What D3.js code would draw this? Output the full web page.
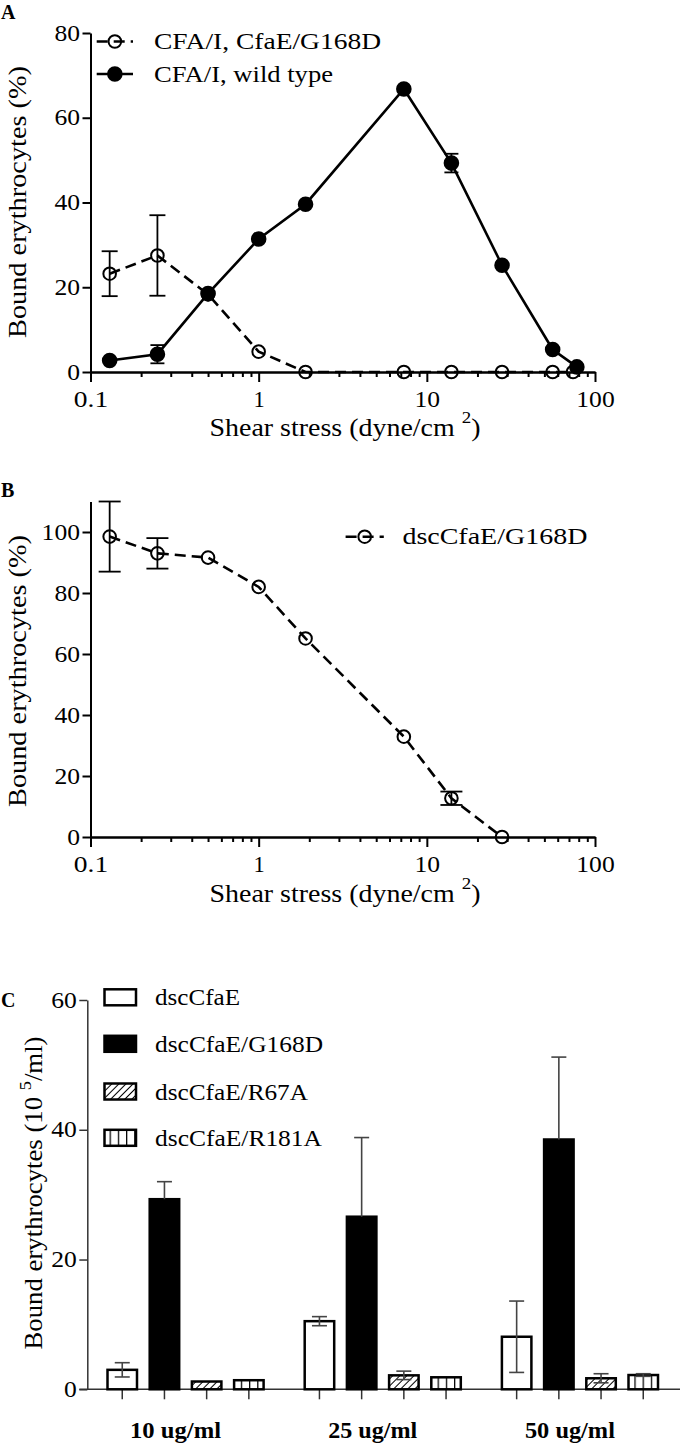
<!DOCTYPE html>
<html>
<head>
<meta charset="utf-8">
<script src="https://cdn.jsdelivr.net/npm/d3@7"></script>
<style>
  body { margin: 0; background: #fff; }
  svg { display: block; }
  text { fill: #000; }
</style>
</head>
<body>
<script>
// Panel A: CFA/I fimbriae, bound erythrocytes vs shear stress
var shearMutant = [0.13, 0.25, 0.5, 1, 1.9, 7.3, 14, 28, 56, 74];
var boundMutant = [23.2, 27.5, 18.3, 4.8, 0, 0, 0, 0, 0, 0];
var errMutant   = [5.3, 9.5, 0, 0, 0, 0, 0, 0, 0, 0];
var shearWild = [0.13, 0.25, 0.5, 1, 1.9, 7.3, 14, 28, 56, 78];
var boundWild = [2.7, 4.2, 18.5, 31.4, 39.6, 66.8, 49.3, 25.2, 5.3, 1.2];
var errWild   = [0, 2.15, 0, 0, 0, 0, 2.2, 0, 0, 0];
var legendA = ["CFA/I, CfaE/G168D", "CFA/I, wild type"];

// Panel B: dscCfaE/G168D
var shearB = [0.13, 0.25, 0.5, 1, 1.9, 7.3, 14, 28];
var boundB = [98.5, 93, 91.6, 82, 65.1, 32.9, 12.7, 0];
var errB   = [11.5, 5, 0, 0, 0, 0, 2.2, 0];

// shared tick values
var shearTicks = [0.1, 1, 10, 100];
var percentTicksA = [0, 20, 40, 60, 80];
var percentTicksB = [0, 20, 40, 60, 80, 100];

// Panel C: bound erythrocytes per protein and concentration
var concentrations = ["10 ug/ml", "25 ug/ml", "50 ug/ml"];
var proteins = ["dscCfaE", "dscCfaE/G168D", "dscCfaE/R67A", "dscCfaE/R181A"];
var countCfaE  = [3.0, 10.5, 8.1];
var countG168D = [29.3, 26.6, 38.5];
var countR67A  = [1.2, 2.15, 1.7];
var countR181A = [1.4, 1.85, 2.2];
var errCfaE  = [1.1, 0.7, 5.5];
var errG168D = [2.7, 12.2, 12.7];
var errR67A  = [0, 0.65, 0.7];
var errR181A = [0, 0, 0.2];
var countTicks = [0, 20, 40, 60];

var counts = [countCfaE, countG168D, countR67A, countR181A];
var countErrs = [errCfaE, errG168D, errR67A, errR181A];
var fills = ["#fff", "#000", "url(#hatch)", "url(#vlines)"];

//pick a Times-like font if there is one, otherwise fall back to DejaVu Serif
var serif = '"Liberation Serif", "Tinos", "Times New Roman", "Nimbus Roman", "FreeSerif", "DejaVu Serif", serif';
var fs = 1;
(function() {
  var ctx = document.createElement("canvas").getContext("2d");
  ctx.font = "40px monospace";
  var base = ctx.measureText("mmmWWWiiil0.1").width;
  ctx.font = '40px "Liberation Serif", monospace';
  if (Math.abs(ctx.measureText("mmmWWWiiil0.1").width - base) < 0.5) fs = 0.89;
})();

var svg = d3.select("body").append("svg")
  .attr("width", 680)
  .attr("height", 1446)
  .style("font-family", serif);

//patterns for the hatched bars
var defs = svg.append("defs");
var hatch = defs.append("pattern").attr("id", "hatch")
  .attr("patternUnits", "userSpaceOnUse")
  .attr("width", 5).attr("height", 5)
  .attr("patternTransform", "rotate(45)");
hatch.append("rect").attr("width", 5).attr("height", 5).attr("fill", "#fff");
hatch.append("line").attr("x1", 0).attr("y1", 0).attr("x2", 0).attr("y2", 5)
  .attr("stroke", "#000").attr("stroke-width", 2);
var vlines = defs.append("pattern").attr("id", "vlines")
  .attr("patternUnits", "userSpaceOnUse")
  .attr("width", 8.2).attr("height", 8)
  .attr("x", 3);
vlines.append("rect").attr("width", 8.2).attr("height", 8).attr("fill", "#fff");
vlines.append("line").attr("x1", 0.5).attr("y1", 0).attr("x2", 0.5).attr("y2", 8)
  .attr("stroke", "#000").attr("stroke-width", 1.5);

function points(xs, ys, es) {
  return xs.map(function(d, i) { return {x: d, y: ys[i], e: es[i]}; });
}

//draws the log shear axis with minor ticks and its title
function shearAxis(x, y0, titleY) {
  var minor = [];
  [0.1, 1, 10].forEach(function(d) {
    for (var k = 2; k < 10; k++) minor.push(d * k);
  });
  var g = svg.append("g").attr("transform", "translate(0," + y0 + ")");
  g.append("g").call(d3.axisBottom(x).tickValues(minor).tickSize(5).tickSizeOuter(0).tickFormat(""));
  g.append("g").call(d3.axisBottom(x).tickValues(shearTicks).tickSize(10).tickSizeOuter(0)
    .tickPadding(9).tickFormat(function(d) { return String(d); }));
  g.selectAll("g").attr("font-family", null).attr("font-size", null);
  g.selectAll("path, line").attr("stroke", "#000").attr("stroke-width", 2);
  g.selectAll("text").attr("font-size", 22.5 * fs).attr("textLength", function(d) {
    return String(d).length === 1 ? null : String(d).length * 12.8 - (String(d).indexOf(".") >= 0 ? 4 : 0);
  }).attr("lengthAdjust", "spacingAndGlyphs");
  var t = svg.append("text")
    .attr("x", 345).attr("y", titleY)
    .attr("text-anchor", "middle")
    .attr("font-size", 25 * fs)
    .attr("textLength", 271).attr("lengthAdjust", "spacingAndGlyphs");
  t.append("tspan").text("Shear stress (dyne/cm ");
  t.append("tspan").attr("font-size", 17 * fs).attr("dy", -13).text("2");
  t.append("tspan").attr("dy", 13).text(")");
}

function valueAxis(y, ticks, x0, color, width) {
  var g = svg.append("g").attr("transform", "translate(" + x0 + ",0)")
    .call(d3.axisLeft(y).tickValues(ticks).tickSize(8).tickSizeOuter(0).tickPadding(2.5));
  g.attr("font-family", null).attr("font-size", null);
  g.selectAll("path, line").attr("stroke", color).attr("stroke-width", width);
  g.selectAll("text").attr("font-size", 22.5 * fs)
    .attr("textLength", function(d) { return String(d).length * 12.8; })
    .attr("lengthAdjust", "spacingAndGlyphs");
}

function yTitle(label, cx, cy, len) {
  svg.append("text")
    .attr("transform", "translate(" + cx + "," + cy + ") rotate(-90)")
    .attr("text-anchor", "middle")
    .attr("font-size", 25 * fs)
    .attr("textLength", len).attr("lengthAdjust", "spacingAndGlyphs")
    .text(label);
}

//draws one series: error bars, line, markers
function series(pts, x, y, dashed, filled, cap) {
  var eb = svg.append("g");
  pts.filter(function(d) { return d.e > 0; }).forEach(function(d) {
    var cx = x(d.x);
    eb.append("line").attr("x1", cx).attr("x2", cx)
      .attr("y1", y(d.y - d.e)).attr("y2", y(d.y + d.e));
    eb.append("line").attr("x1", cx - cap / 2).attr("x2", cx + cap / 2)
      .attr("y1", y(d.y + d.e)).attr("y2", y(d.y + d.e));
    eb.append("line").attr("x1", cx - cap / 2).attr("x2", cx + cap / 2)
      .attr("y1", y(d.y - d.e)).attr("y2", y(d.y - d.e));
  });
  eb.selectAll("line").attr("stroke", "#000").attr("stroke-width", 1.8);

  var line = d3.line().x(function(d) { return x(d.x); }).y(function(d) { return y(d.y); });
  svg.append("path").datum(pts)
    .attr("d", line)
    .attr("fill", "none")
    .attr("stroke", "#000")
    .attr("stroke-width", 2.6)
    .attr("stroke-dasharray", dashed ? "11,6" : null);

  svg.append("g").selectAll("circle")
    .data(pts)
    .enter()
    .append("circle")
    .attr("cx", function(d) { return x(d.x); })
    .attr("cy", function(d) { return y(d.y); })
    .attr("r", filled ? 6.8 : 6.3)
    .attr("fill", filled ? "#000" : "none")
    .attr("stroke", "#000")
    .attr("stroke-width", 2);
}

function legendItem(x1, x2, y, label, textX, len, dashed, filled) {
  svg.append("line").attr("x1", x1).attr("x2", x2).attr("y1", y).attr("y2", y)
    .attr("stroke", "#000").attr("stroke-width", 2.6)
    .attr("stroke-dasharray", dashed ? "11,6" : null);
  svg.append("circle").attr("cx", (x1 + x2) / 2).attr("cy", y)
    .attr("r", filled ? 6.8 : 6.3)
    .attr("fill", filled ? "#000" : "none")
    .attr("stroke", "#000").attr("stroke-width", 2);
  svg.append("text").attr("x", textX).attr("y", y + 7.5)
    .attr("font-size", 24 * fs)
    .attr("textLength", len).attr("lengthAdjust", "spacingAndGlyphs")
    .text(label);
}

function panelLetter(letter, y) {
  svg.append("text").attr("x", 1).attr("y", y)
    .attr("font-size", 20 * fs).attr("font-weight", "bold").text(letter);
}

// ---------- Panel A ----------
var xA = d3.scaleLog().domain([0.1, 100]).range([90.5, 595]);
var yA = d3.scaleLinear().domain([0, 80]).range([372, 33]);
panelLetter("A", 18.5);
valueAxis(yA, percentTicksA, 90.5, "#000", 2);
shearAxis(xA, 372, 436);
yTitle("Bound erythrocytes (%)", 26, 202, 272);
series(points(shearMutant, boundMutant, errMutant), xA, yA, true, false, 16);
series(points(shearWild, boundWild, errWild), xA, yA, false, true, 14);
legendItem(96.7, 133, 41.5, legendA[0], 154, 227, true, false);
legendItem(96.7, 133, 74, legendA[1], 154, 179, false, true);

// ---------- Panel B ----------
var xB = d3.scaleLog().domain([0.1, 100]).range([90.5, 595]);
var yB = d3.scaleLinear().domain([0, 110]).range([837, 501.5]);
panelLetter("B", 497);
valueAxis(yB, percentTicksB, 90.5, "#000", 2);
shearAxis(xB, 837, 902);
yTitle("Bound erythrocytes (%)", 26, 671, 272);
series(points(shearB, boundB, errB), xB, yB, true, false, 22);
legendItem(345.6, 383.8, 536.7, proteins[1], 402.4, 185, true, false);

// ---------- Panel C ----------
var yC = d3.scaleLinear().domain([0, 60]).range([1389.3, 1000]);
var x0 = d3.scaleBand().domain(concentrations).range([86.7, 678.3]);
var x1 = d3.scaleBand().domain(proteins).range([20.8, 176.9]).paddingInner(0.301);
panelLetter("C", 1007);
valueAxis(yC, countTicks, 87.3, "#333", 1.5);

// x axis line with a tick below every bar
var gx = svg.append("g");
gx.append("line").attr("x1", 79.3).attr("x2", 680)
  .attr("y1", yC(0)).attr("y2", yC(0));
concentrations.forEach(function(c) {
  proteins.forEach(function(p) {
    var cx = x0(c) + x1(p) + x1.bandwidth() / 2;
    gx.append("line").attr("x1", cx).attr("x2", cx)
      .attr("y1", yC(0)).attr("y2", yC(0) + 10);
  });
});
gx.selectAll("line").attr("stroke", "#333").attr("stroke-width", 1.5);

var yt = svg.append("text")
  .attr("transform", "translate(41.5,1193) rotate(-90)")
  .attr("text-anchor", "middle")
  .attr("font-size", 25 * fs)
  .attr("textLength", 313).attr("lengthAdjust", "spacingAndGlyphs");
yt.append("tspan").text("Bound erythrocytes (10 ");
yt.append("tspan").attr("font-size", 17 * fs).attr("dy", -11).text("5");
yt.append("tspan").attr("dy", 11).text("/ml)");

// bars
proteins.forEach(function(p, i) {
  svg.append("g").selectAll("rect")
    .data(counts[i])
    .enter()
    .append("rect")
    .attr("x", function(d, j) { return x0(concentrations[j]) + x1(p); })
    .attr("y", function(d) { return yC(d); })
    .attr("width", x1.bandwidth())
    .attr("height", function(d) { return yC(0) - yC(d); })
    .attr("fill", fills[i])
    .attr("stroke", "#000")
    .attr("stroke-width", 2.5);
});

// error bars (lower half hidden on the solid bars)
var ge = svg.append("g");
proteins.forEach(function(p, i) {
  counts[i].forEach(function(v, j) {
    var e = countErrs[i][j];
    if (e <= 0) return;
    var cx = x0(concentrations[j]) + x1(p) + x1.bandwidth() / 2;
    var lo = fills[i] === "#000" ? v : v - e;
    ge.append("line").attr("x1", cx).attr("x2", cx)
      .attr("y1", yC(lo)).attr("y2", yC(v + e));
    ge.append("line").attr("x1", cx - 7.5).attr("x2", cx + 7.5)
      .attr("y1", yC(v + e)).attr("y2", yC(v + e));
    if (lo !== v) {
      ge.append("line").attr("x1", cx - 7.5).attr("x2", cx + 7.5)
        .attr("y1", yC(lo)).attr("y2", yC(lo));
    }
  });
});
ge.selectAll("line").attr("stroke", "#444").attr("stroke-width", 1.6);

// category labels
var catLen = [91, 89, 90];
concentrations.forEach(function(c, j) {
  svg.append("text")
    .attr("x", x0(c) + (x1.range()[0] + x1.range()[1]) / 2 - 10)
    .attr("y", 1438)
    .attr("text-anchor", "middle")
    .attr("font-size", 24 * fs)
    .attr("font-weight", "bold")
    .attr("textLength", catLen[j]).attr("lengthAdjust", "spacingAndGlyphs")
    .text(c);
});

// legend C
var legendRows = [997.3, 1043.8, 1091.5, 1137.8];
var legendLen = [85, 168, 153, 167];
proteins.forEach(function(p, i) {
  svg.append("rect")
    .attr("x", 104.5).attr("y", legendRows[i] - 8)
    .attr("width", 31.5).attr("height", 16)
    .attr("fill", fills[i])
    .attr("stroke", "#000").attr("stroke-width", 2.5);
  svg.append("text")
    .attr("x", 155).attr("y", legendRows[i] + 8)
    .attr("font-size", 24 * fs)
    .attr("textLength", legendLen[i]).attr("lengthAdjust", "spacingAndGlyphs")
    .text(p);
});
</script>
</body>
</html>
